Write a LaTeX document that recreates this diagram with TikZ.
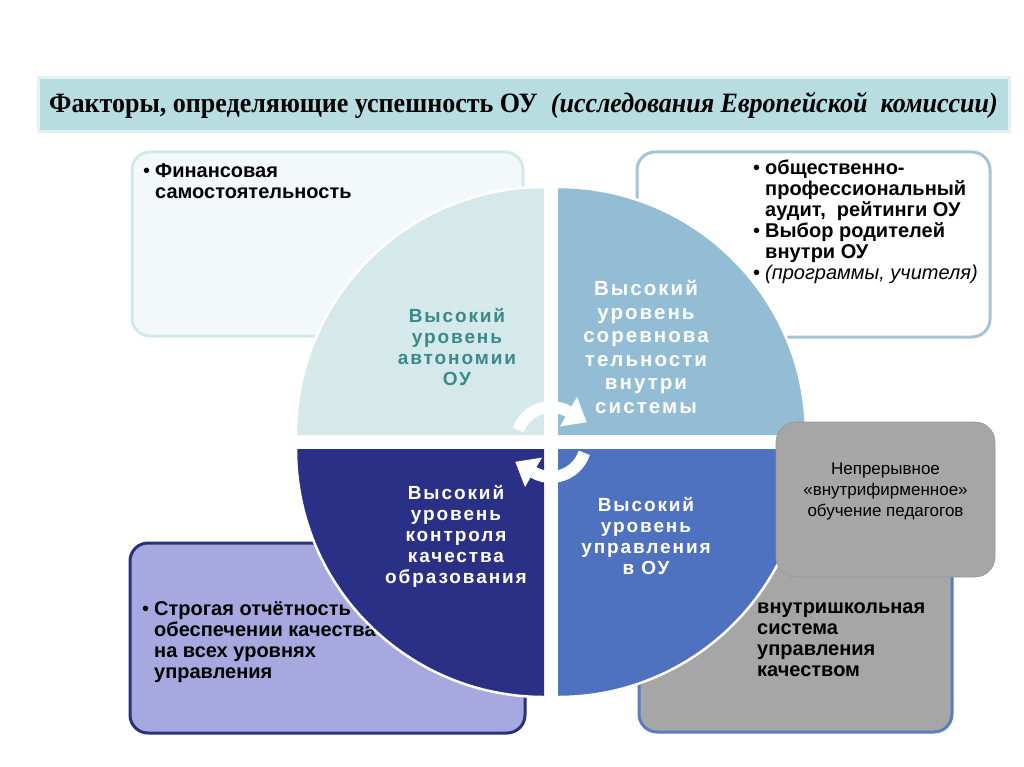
\documentclass[tikz,border=0pt]{standalone}
\usepackage{fontspec}
\setmainfont{Liberation Sans}
\newfontfamily\titlefont{Liberation Serif}
\newfontfamily\spacedfont[LetterSpace=10]{Liberation Sans}
\usetikzlibrary{calc}

\definecolor{titlefill}{HTML}{B7DDE0}
\definecolor{titleline}{HTML}{E3F1F2}
\definecolor{tlfill}{HTML}{F3F9FA}
\definecolor{tlline}{HTML}{D3E8EA}
\definecolor{trline}{HTML}{A5C4D4}
\definecolor{blfill}{HTML}{A8A8E0}
\definecolor{blline}{HTML}{2B2F80}
\definecolor{brfill}{HTML}{A6A6A6}
\definecolor{brline}{HTML}{5A7DBD}
\definecolor{quadA}{HTML}{D5E8EA}
\definecolor{quadB}{HTML}{93BCD5}
\definecolor{quadC}{HTML}{2B3087}
\definecolor{quadD}{HTML}{4E72C0}
\definecolor{quadAtext}{HTML}{3A8A8C}

\newcommand{\bl}{\makebox[12pt][l]{\mdseries\textbullet}}
\newcommand{\ind}{\hspace*{12pt}}

\begin{document}
\begin{tikzpicture}[x=1pt, y=-1pt,
  box/.style={line width=3pt, rounded corners=18pt, inner sep=0pt},
  itemtext/.style={anchor=north west, align=left, inner sep=0pt,
    font=\bfseries\fontsize{20}{21}\selectfont},
  quadtext/.style={align=center, inner sep=0pt,
    font=\spacedfont\bfseries\fontsize{19}{21}\selectfont},
  quad/.style={draw=white, line width=2.5pt},
  cycbody/.style={white, line width=12pt}]
\useasboundingbox (0,0) rectangle (1024,767);

% --- заголовок ---
\node[draw=titleline, line width=3pt, fill=titlefill, inner sep=0pt,
  minimum width=971pt, minimum height=54pt] (title) at (523.5,105) {};
\node[font=\titlefont\bfseries\fontsize{28}{32}\selectfont] (titletext) at (title.center)
  {\scalebox{0.93}[1]{Факторы, определяющие успешность ОУ\ \ \textit{(исследования Европейской\ \ комиссии)}}};

% --- четыре блока по углам ---
\node[box, draw=tlline, fill=tlfill, minimum width=391pt, minimum height=184pt] (tlbox) at (327.5,244) {};
\node[itemtext] (tltext) at (143,163) {\bl Финансовая\\\ind самостоятельность};

\node[box, draw=trline, fill=white, minimum width=353pt, minimum height=185pt] (trbox) at (813.5,244.5) {};
\node[itemtext] (trtext) at (753,160)
  {\bl общественно-\\\ind профессиональный\\\ind аудит,\ \ рейтинги ОУ\\
   \bl Выбор родителей\\\ind внутри ОУ\\\bl{\mdseries\itshape(программы, учителя)}};

\node[box, draw=blline, fill=blfill, minimum width=395pt, minimum height=190pt] (blbox) at (327.5,638) {};
\node[itemtext] (bltext) at (142,601)
  {\bl Строгая отчётность\\\ind обеспечении качества\\\ind на всех уровнях\\\ind управления};

\node[box, draw=brline, fill=brfill, minimum width=313pt, minimum height=187pt] (brbox) at (795.5,638.5) {};
\node[itemtext] (brtext) at (757,603) {внутришкольная\\система\\управления\\качеством};

% --- круг из четырёх секторов ---
\fill[quadA] (544,435) -- ++(180:248) arc[start angle=180, end angle=270, radius=248] -- cycle;
\fill[quadB] (558,435) -- ++(270:248) arc[start angle=270, end angle=360, radius=248] -- cycle;
\fill[quadD] (558,449) -- ++(0:248) arc[start angle=0, end angle=90, radius=248] -- cycle;
\fill[quadC] (544,449) -- ++(90:248) arc[start angle=90, end angle=180, radius=248] -- cycle;
\draw[quad] (296,435) arc[start angle=180, end angle=270, radius=248];
\draw[quad] (558,187) arc[start angle=270, end angle=360, radius=248];
\draw[quad] (806,449) arc[start angle=0, end angle=90, radius=248];
\draw[quad] (544,697) arc[start angle=90, end angle=180, radius=248];

\node[quadtext, text=quadAtext] (autonomy) at (457,347.5) {Высокий\\уровень\\автономии\\ОУ};
\node[quadtext, text=white, font=\spacedfont\bfseries\fontsize{20.5}{23.5}\selectfont] (competition) at (646,347)
  {Высокий\\уровень\\соревнова\\тельности\\внутри\\системы};
\node[quadtext, text=white] (control) at (456,536.5) {Высокий\\уровень\\контроля\\качества\\образования};
\node[quadtext, text=white] (management) at (646,536.5) {Высокий\\уровень\\управления\\в ОУ};

% --- круговые стрелки ---
\coordinate (hub) at (551,442);
\draw[cycbody] ([shift={(200:35)}]hub) arc[start angle=200, end angle=300, radius=35];
\fill[white] ($(hub)+(300:18)$) -- ($(hub)+(300:52)$) -- ($(hub)+(300:35)+(30:21)$) -- cycle;
\draw[cycbody] ([shift={(18:35)}]hub) arc[start angle=18, end angle=120, radius=35];
\fill[white] ($(hub)+(120:18)$) -- ($(hub)+(120:52)$) -- ($(hub)+(120:35)+(210:21)$) -- cycle;

% --- серый блок поверх круга ---
\node[box, draw=brfill!90!black, line width=0.6pt, fill=brfill, rounded corners=20pt,
  minimum width=219pt, minimum height=155pt] (trainbox) at (885.5,499.5) {};
\node[align=center, inner sep=0pt, font=\fontsize{17}{21}\selectfont] (traintext) at (885.5,491)
  {Непрерывное\\«внутрифирменное»\\обучение педагогов};
\end{tikzpicture}
\end{document}
